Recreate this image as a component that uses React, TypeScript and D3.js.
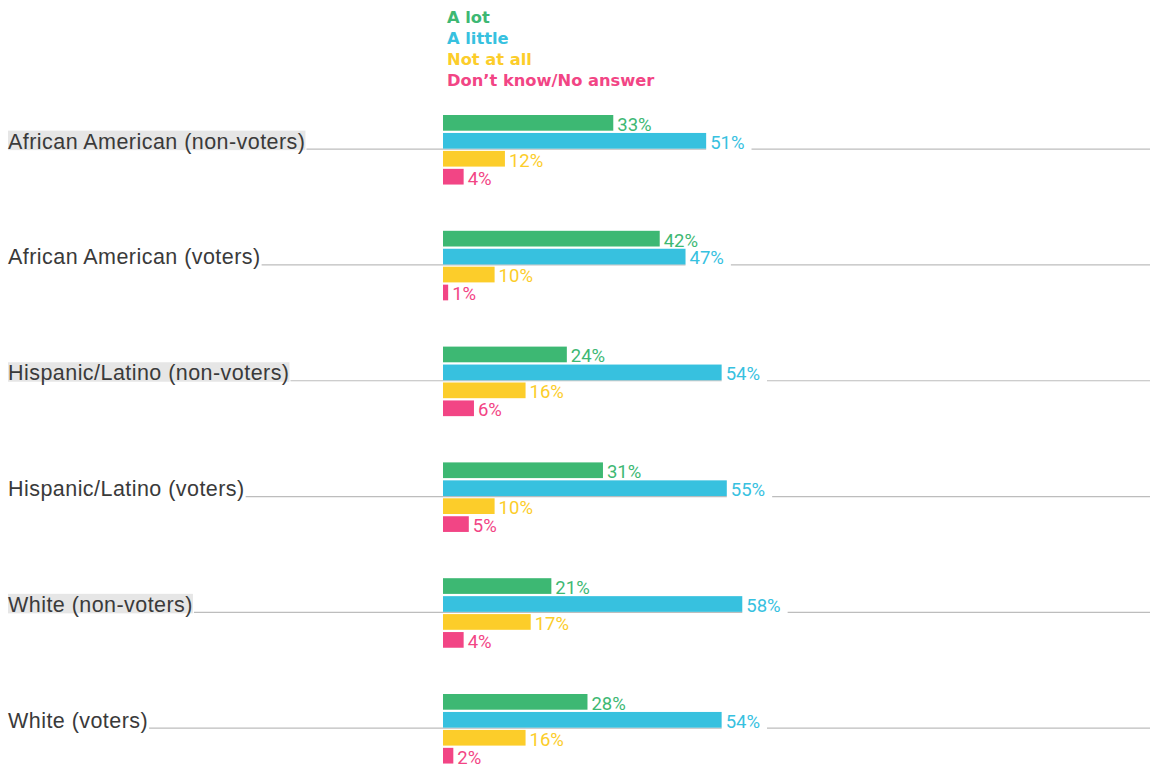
import React, { useLayoutEffect, useRef, useState } from "react";
import * as d3 from "d3";

const categories = [
  "African American (non-voters)",
  "African American (voters)",
  "Hispanic/Latino (non-voters)",
  "Hispanic/Latino (voters)",
  "White (non-voters)",
  "White (voters)",
];
const highlighted = [true, false, true, false, true, false];
const seriesNames = ["A lot", "A little", "Not at all", "Don\u2019t know/No answer"];
const seriesColors = ["#3db873", "#37c1df", "#fccd2a", "#f24585"];
const aLot = [33, 42, 24, 31, 21, 28];
const aLittle = [51, 47, 54, 55, 58, 54];
const notAtAll = [12, 10, 16, 10, 17, 16];
const dontKnow = [4, 1, 6, 5, 4, 2];
const series = [aLot, aLittle, notAtAll, dontKnow];

const W = 1150;
const H = 765;

export default function App() {
  const x = d3.scaleLinear().domain([0, 100]).range([443, 443 + 516]);
  const gy = d3
    .scaleBand<string>()
    .domain(categories)
    .range([115, 115 + 6 * 115.8])
    .paddingInner(0)
    .paddingOuter(0);
  const sy = d3
    .scaleBand<string>()
    .domain(seriesNames)
    .range([0, 4 * 17.5])
    .paddingInner(0.1)
    .paddingOuter(0);
  const bh = 15.7;
  const labelFont = "'Liberation Sans', Arial, sans-serif";
  const legendFont = "'DejaVu Sans', sans-serif";
  const valueFont = "Roboto, 'Liberation Sans', sans-serif";

  const labelRefs = useRef<(SVGTextElement | null)[]>([]);
  const valRefs = useRef<(SVGTextElement | null)[]>([]);
  const [lw, setLw] = useState<number[]>(categories.map((c) => c.length * 10.3));
  const [vw, setVw] = useState<number[]>(categories.map(() => 34));

  useLayoutEffect(() => {
    setLw(labelRefs.current.map((el, i) => (el ? el.getComputedTextLength() : lw[i])));
    setVw(valRefs.current.map((el, i) => (el ? el.getComputedTextLength() : vw[i])));
  }, []);

  return (
    <div style={{ position: "absolute", left: 0, top: 0 }}>
      <svg width={W} height={H} style={{ display: "block" }}>
        <rect width={W} height={H} fill="#fff" />
        {seriesNames.map((s, i) => (
          <text
            key={s}
            x={447}
            y={23 + i * 21}
            fill={seriesColors[i]}
            fontFamily={legendFont}
            fontWeight="bold"
            fontSize={16.3}
          >
            {s}
          </text>
        ))}
        {categories.map((c, ci) => {
          const g0 = gy(c)!;
          const lineY = g0 + sy(seriesNames[1])! + bh + 0.5;
          return (
            <g key={c}>
              <line x1={8 + lw[ci] + 1} x2={W} y1={lineY} y2={lineY} stroke="#bdbdbd" strokeWidth={1.2} />
              {highlighted[ci] && (
                <rect x={8} y={lineY - 18.5} width={lw[ci]} height={19.5} fill="#e6e6e6" />
              )}
              <text
                ref={(el) => {
                  labelRefs.current[ci] = el;
                }}
                x={8}
                y={lineY - 0.5}
                fill="#3a3a3a"
                fontFamily={labelFont}
                fontSize={21.5}
                letterSpacing={0.45}
              >
                {c}
              </text>
              {series.map((vals, si) => {
                const v = vals[ci];
                const y0 = g0 + sy(seriesNames[si])!;
                const xe = x(v);
                const txt = `${v}%`;
                return (
                  <g key={si}>
                    {si === 1 && (
                      <rect x={xe} y={y0} width={vw[ci] + 11} height={bh + 2} fill="#fff" />
                    )}
                    <rect x={x(0)} y={y0} width={xe - x(0)} height={bh} fill={seriesColors[si]} />
                    <text
                      ref={
                        si === 1
                          ? (el) => {
                              valRefs.current[ci] = el;
                            }
                          : undefined
                      }
                      x={xe + 4}
                      y={y0 + bh}
                      fill={seriesColors[si]}
                      fontFamily={valueFont}
                      fontSize={18.5}
                    >
                      {txt}
                    </text>
                  </g>
                );
              })}
            </g>
          );
        })}
      </svg>
    </div>
  );
}
